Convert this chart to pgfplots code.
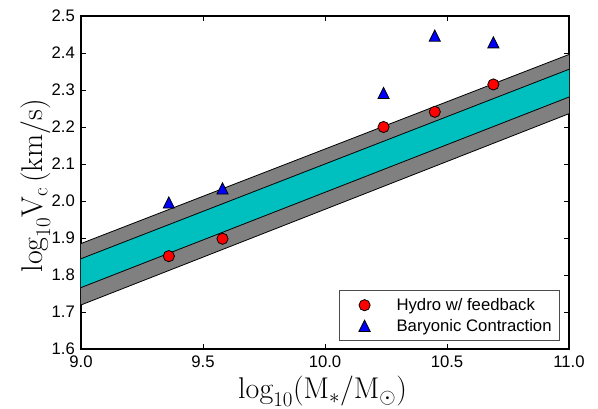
\RequirePackage{fix-cm}
\documentclass[border=0pt]{standalone}
\usepackage{fontspec}
\usepackage{pgfplots}
\pgfplotsset{compat=1.18}
\newfontfamily\tickfont{Liberation Sans}

% upward triangle as wide as it is tall, centred on its box
\pgfdeclareplotmark{tri}{%
  \pgfpathmoveto{\pgfqpoint{0pt}{\pgfplotmarksize}}%
  \pgfpathlineto{\pgfqpoint{-\pgfplotmarksize}{-\pgfplotmarksize}}%
  \pgfpathlineto{\pgfqpoint{\pgfplotmarksize}{-\pgfplotmarksize}}%
  \pgfpathclose
  \pgfusepathqfillstroke}

\definecolor{bandcyan}{rgb}{0,0.75,0.75}
\definecolor{bandgray}{rgb}{0.5,0.5,0.5}

\begin{document}
\begin{tikzpicture}
\begin{axis}[
  name=ax,
  scale only axis,
  width=488bp, height=333bp,
  xmin=9, xmax=11, ymin=1.6, ymax=2.5,
  xtick={9,9.5,10,10.5,11},
  xticklabels={9.0,9.5,10.0,10.5,11.0},
  ytick={1.6,1.7,1.8,1.9,2.0,2.1,2.2,2.3,2.4,2.5},
  yticklabels={1.6,1.7,1.8,1.9,2.0,2.1,2.2,2.3,2.4,2.5},
  tick align=inside,
  major tick length=5bp,
  tick style={line width=0.8bp, black},
  axis line style={line width=1.6bp},
  every tick label/.append style={font=\tickfont\fontsize{16.7bp}{20bp}\selectfont, inner sep=0pt},
  xticklabel style={yshift=-7bp},
  yticklabel style={xshift=-6bp},
  xlabel={$\mathrm{log}_{10}(\mathrm{M}_*/\mathrm{M}_\odot)$},
  ylabel={$\mathrm{log}_{10}\mathrm{V}_\mathrm{c}\,(\mathrm{km/s})$},
  xlabel style={at={(axis description cs:0.495,-0.150)}, anchor=base,
                font=\fontsize{30bp}{36bp}\selectfont, inner sep=0pt},
  ylabel style={at={(axis description cs:-0.078,0.49)}, anchor=base, rotate=0,
                font=\fontsize{30bp}{36bp}\selectfont, inner sep=0pt},
  legend style={at={(axis description cs:1,0)}, anchor=south east,
                xshift=-9bp, yshift=8bp,
                draw=black!70, line width=0.8bp,
                inner xsep=8bp, inner ysep=8bp,
                row sep=7bp, column sep=15bp,
                font=\tickfont\fontsize{16.7bp}{20bp}\selectfont,
                nodes={inner sep=0pt}},
  legend cell align=left,
  legend image code/.code={%
    \path[draw=none, fill=none] (-17bp,-5bp) rectangle (17bp,5bp);
    \draw[#1] plot coordinates {(0bp,0bp)};},
]
% outer (gray) band
\addplot[fill=bandgray, draw=none, forget plot]
  coordinates {(9,1.719) (11,2.236) (11,2.396) (9,1.885)} -- cycle;
% inner (cyan) band
\addplot[fill=bandcyan, draw=none, forget plot]
  coordinates {(9,1.766) (11,2.281) (11,2.356) (9,1.844)} -- cycle;
% band edges
\addplot[black, line width=0.8bp, forget plot] coordinates {(9,1.885) (11,2.396)};
\addplot[black, line width=0.8bp, forget plot] coordinates {(9,1.844) (11,2.356)};
\addplot[black, line width=0.8bp, forget plot] coordinates {(9,1.766) (11,2.281)};
\addplot[black, line width=0.8bp, forget plot] coordinates {(9,1.719) (11,2.236)};

\addplot[only marks, mark=*, mark size=5.6bp,
  mark options={fill=red, draw=black, line width=0.8bp}]
  coordinates {(9.36,1.851) (9.58,1.898) (10.24,2.200) (10.45,2.241) (10.69,2.315)};
\addlegendentry{Hydro w/ feedback}

\addplot[only marks, mark=tri, mark size=5.6bp,
  mark options={fill=blue, draw=black, line width=0.8bp}]
  coordinates {(9.36,1.996) (9.58,2.034) (10.24,2.292) (10.45,2.447) (10.69,2.429)};
\addlegendentry{Baryonic Contraction}
\end{axis}
\pgfresetboundingbox
\path ([xshift=-81bp,yshift=-60bp]ax.south west) rectangle ([xshift=29bp,yshift=16bp]ax.north east);
\end{tikzpicture}
\end{document}
